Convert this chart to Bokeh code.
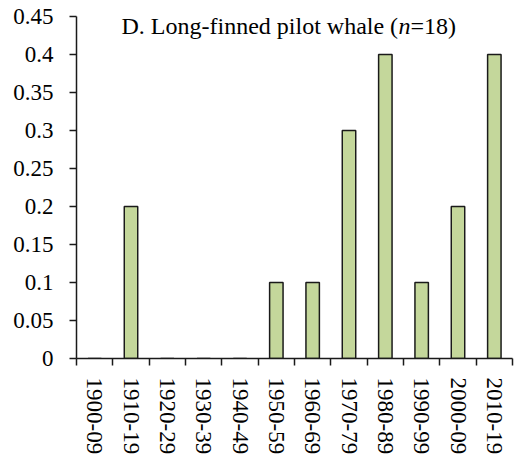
from bokeh.plotting import figure
from bokeh.models import FixedTicker, Range1d, Label
from bokeh.embed import file_html
from bokeh.resources import INLINE

categories = ["1900-09", "1910-19", "1920-29", "1930-39", "1940-49", "1950-59",
              "1960-69", "1970-79", "1980-89", "1990-99", "2000-09", "2010-19"]
values = [0, 0.2, 0, 0, 0, 0.1, 0.1, 0.3, 0.4, 0.1, 0.2, 0.4]
y_ticks = [0, 0.05, 0.1, 0.15, 0.2, 0.25, 0.3, 0.35, 0.4, 0.45]
y_tick_labels = ["0", "0.05", "0.1", "0.15", "0.2", "0.25", "0.3", "0.35", "0.4", "0.45"]
title_main = "D. Long-finned pilot whale ("
title_italic = "n"
title_end = "=18)"

FONT = "Liberation Serif"
n = len(categories)
centers = [i + 0.5 for i in range(n)]
bounds = list(range(n + 1))

p = figure(width=516, height=455, frame_width=436, frame_height=342,
           output_backend="svg", toolbar_location=None,
           x_range=Range1d(0, n), y_range=Range1d(0, 0.45),
           min_border_left=76, min_border_right=4, min_border_top=16, min_border_bottom=97)
p.outline_line_color = None
p.xgrid.grid_line_color = None
p.ygrid.grid_line_color = None
p.background_fill_color = "white"

p.vbar(x=centers, top=values, width=0.37, fill_color="#c4d79b",
       line_color="#1a1a1a", line_width=1.5)

# x axis
xa = p.xaxis[0]
xa.ticker = FixedTicker(ticks=centers, minor_ticks=bounds)
xa.major_label_overrides = {c: lab for c, lab in zip(centers, categories)}
xa.major_label_orientation = "vertical"
xa.major_tick_line_color = None
xa.major_tick_out = 0
xa.major_tick_in = 0
xa.minor_tick_out = 7
xa.minor_tick_in = 0
xa.minor_tick_line_color = "#1a1a1a"
xa.minor_tick_line_width = 1.5
xa.axis_line_color = "#1a1a1a"
xa.axis_line_width = 1.5
xa.major_label_text_font = FONT
xa.major_label_text_font_size = "23px"
xa.major_label_text_color = "black"
xa.major_label_standoff = 12

# y axis
ya = p.yaxis[0]
ya.ticker = FixedTicker(ticks=y_ticks, minor_ticks=[])
ya.major_label_overrides = {t: lab for t, lab in zip(y_ticks, y_tick_labels)}
ya.major_tick_out = 7
ya.major_tick_in = 0
ya.major_tick_line_color = "#1a1a1a"
ya.major_tick_line_width = 1.5
ya.axis_line_color = "#1a1a1a"
ya.axis_line_width = 1.5
ya.major_label_text_font = FONT
ya.major_label_text_font_size = "23px"
ya.major_label_text_color = "black"
ya.major_label_standoff = 16

# title pieces, positioned in data units
px_per_unit = 436 / n
def dx(px):
    return (px - 76) / px_per_unit
ty = (358 - 25) / 760.0
common = dict(y=ty, text_font=FONT, text_font_size="24px", text_color="black",
              text_baseline="alphabetic")
p.add_layout(Label(x=dx(121), text=title_main, text_align="left", **common))
p.add_layout(Label(x=dx(398), text=title_italic, text_align="left",
                   text_font_style="italic", **common))
p.add_layout(Label(x=dx(410), text=title_end, text_align="left", **common))

open("out.html", "w").write(file_html(p, INLINE))
